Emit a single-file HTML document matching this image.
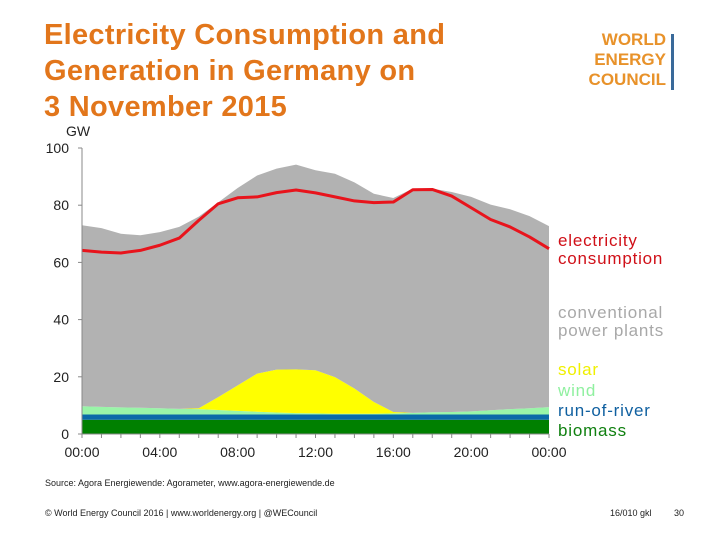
<!DOCTYPE html>
<html><head><meta charset="utf-8"><style>
body{margin:0;width:720px;height:540px;background:#fff;overflow:hidden;font-family:"Liberation Sans",sans-serif;position:relative}
.t{position:absolute;white-space:nowrap}
</style></head><body>
<div class="t" style="left:44px;top:17px;font-size:29px;letter-spacing:0.3px;font-weight:bold;color:#E2761B;line-height:36px">Electricity Consumption and<br>Generation in Germany on<br>3 November 2015</div>
<div class="t" style="right:54px;top:30px;text-align:right;font-size:17px;font-weight:bold;color:#E8922A;line-height:20px">WORLD<br>ENERGY<br>COUNCIL</div>
<div class="t" style="left:671px;top:34px;width:3px;height:56px;background:#3a6a9a"></div>
<svg id="c" width="720" height="540" style="position:absolute;left:0;top:0"></svg>
<div class="t" style="left:45px;top:478px;font-size:9px;color:#222">Source: Agora Energiewende: Agorameter, www.agora-energiewende.de</div>
<div class="t" style="left:45px;top:508px;font-size:9px;color:#222">© World Energy Council 2016 | www.worldenergy.org | @WECouncil</div>
<div class="t" style="left:610px;top:508px;font-size:9px;color:#222">16/010 gkl</div>
<div class="t" style="left:674px;top:508px;font-size:9px;color:#222">30</div>
<script>
const hours=[0,1,2,3,4,5,6,7,8,9,10,11,12,13,14,15,16,17,18,19,20,21,22,23,24];
const total=[73,72,70,69.5,70.6,72.4,76,81,86,90.4,92.8,94.2,92.2,91,88,84,82.5,85.8,85.8,84.6,82.9,80.2,78.6,76.2,72.7];
const consumption=[64.2,63.6,63.3,64.2,66,68.5,74.7,80.5,82.6,82.9,84.4,85.3,84.3,82.9,81.5,80.9,81.1,85.4,85.5,83.2,79.1,75,72.4,68.9,64.8];
const biomass=[5,5,5,5,5,5,5,5,5,5,5,5,5,5,5,5,5,5,5,5,5,5,5,5,5];
const river=[1.8,1.8,1.8,1.8,1.8,1.8,1.8,1.8,1.8,1.8,1.8,1.8,1.8,1.8,1.8,1.8,1.8,1.8,1.8,1.8,1.8,1.8,1.8,1.8,1.8];
const wind=[2.9,2.7,2.5,2.4,2.2,2.0,1.9,1.6,1.3,1.0,0.7,0.5,0.4,0.3,0.3,0.3,0.4,0.6,0.8,0.9,1.1,1.5,1.9,2.2,2.6];
const solar=[0,0,0,0,0,0,0.3,4.5,8.9,13.3,15,15.3,15.1,12.8,8.8,4.1,0.5,0,0,0,0,0,0,0,0];
const yTicks=[0,20,40,60,80,100];
const xTicks=["00:00","04:00","08:00","12:00","16:00","20:00","00:00"];
const svg=document.getElementById('c');const NS="http://www.w3.org/2000/svg";
const X=h=>82+h*(467/24), Y=v=>434-v*2.86;
function el(t,a){const e=document.createElementNS(NS,t);for(const k in a)e.setAttribute(k,a[k]);svg.appendChild(e);return e;}
const conv=total.map((t,i)=>t-biomass[i]-river[i]-wind[i]-solar[i]);
const layers=[[biomass,'#008000','biomass-area'],[river,'#0a6aa8','run-of-river-area'],[wind,'#99f5a8','wind-area'],[solar,'#ffff00','solar-area'],[conv,'#b2b2b2','conventional-area']];
let base=hours.map(()=>0);
layers.forEach(([arr,col,nm])=>{
 const top=base.map((b,i)=>b+arr[i]);
 let d='M'+hours.map((h,i)=>X(h)+','+Y(top[i])).join('L');
 for(let i=hours.length-1;i>=0;i--)d+='L'+X(hours[i])+','+Y(base[i]);
 const p=el('path',{d:d+'Z',fill:col});
 
 
 base=top;
});
const line=el('path',{d:'M'+hours.map((h,i)=>X(h)+','+Y(consumption[i])).join('L'),fill:'none',stroke:'#e8141c','stroke-width':3,'stroke-linejoin':'round'});


el('line',{x1:X(0),y1:Y(0),x2:X(0),y2:Y(100),stroke:'#888','stroke-width':1});
el('line',{x1:X(0),y1:Y(0),x2:X(24),y2:Y(0),stroke:'#888','stroke-width':1});
for(let h=0;h<=24;h++)el('line',{x1:X(h),y1:Y(0),x2:X(h),y2:Y(0)+4,stroke:'#888'});
yTicks.forEach(v=>{el('line',{x1:X(0)-4,y1:Y(v),x2:X(0),y2:Y(v),stroke:'#888'});
 const t=el('text',{x:69,y:Y(v)+5,'text-anchor':'end','font-size':14,fill:'#222'});t.textContent=v;
 
 });
xTicks.forEach((s,i)=>{const t=el('text',{x:X(i*4),y:457,'text-anchor':'middle','font-size':14,fill:'#222'});t.textContent=s;
 
 });
const u=el('text',{x:66,y:136,'font-size':14,fill:'#222'});u.textContent='GW';


const leg=[['electricity',246,'#d01018'],['consumption',264,'#d01018'],['conventional',318,'#a8a8a8'],['power plants',336,'#a8a8a8'],['solar',375,'#f0f000'],['wind',396,'#90f0a0'],['run-of-river',416,'#1060a0'],['biomass',436,'#108010']];
leg.forEach(([s,y,c])=>{const t=el('text',{x:558,y:y,'font-size':17,'letter-spacing':0.8,fill:c});t.textContent=s;
 
 });
</script>
</body></html>
